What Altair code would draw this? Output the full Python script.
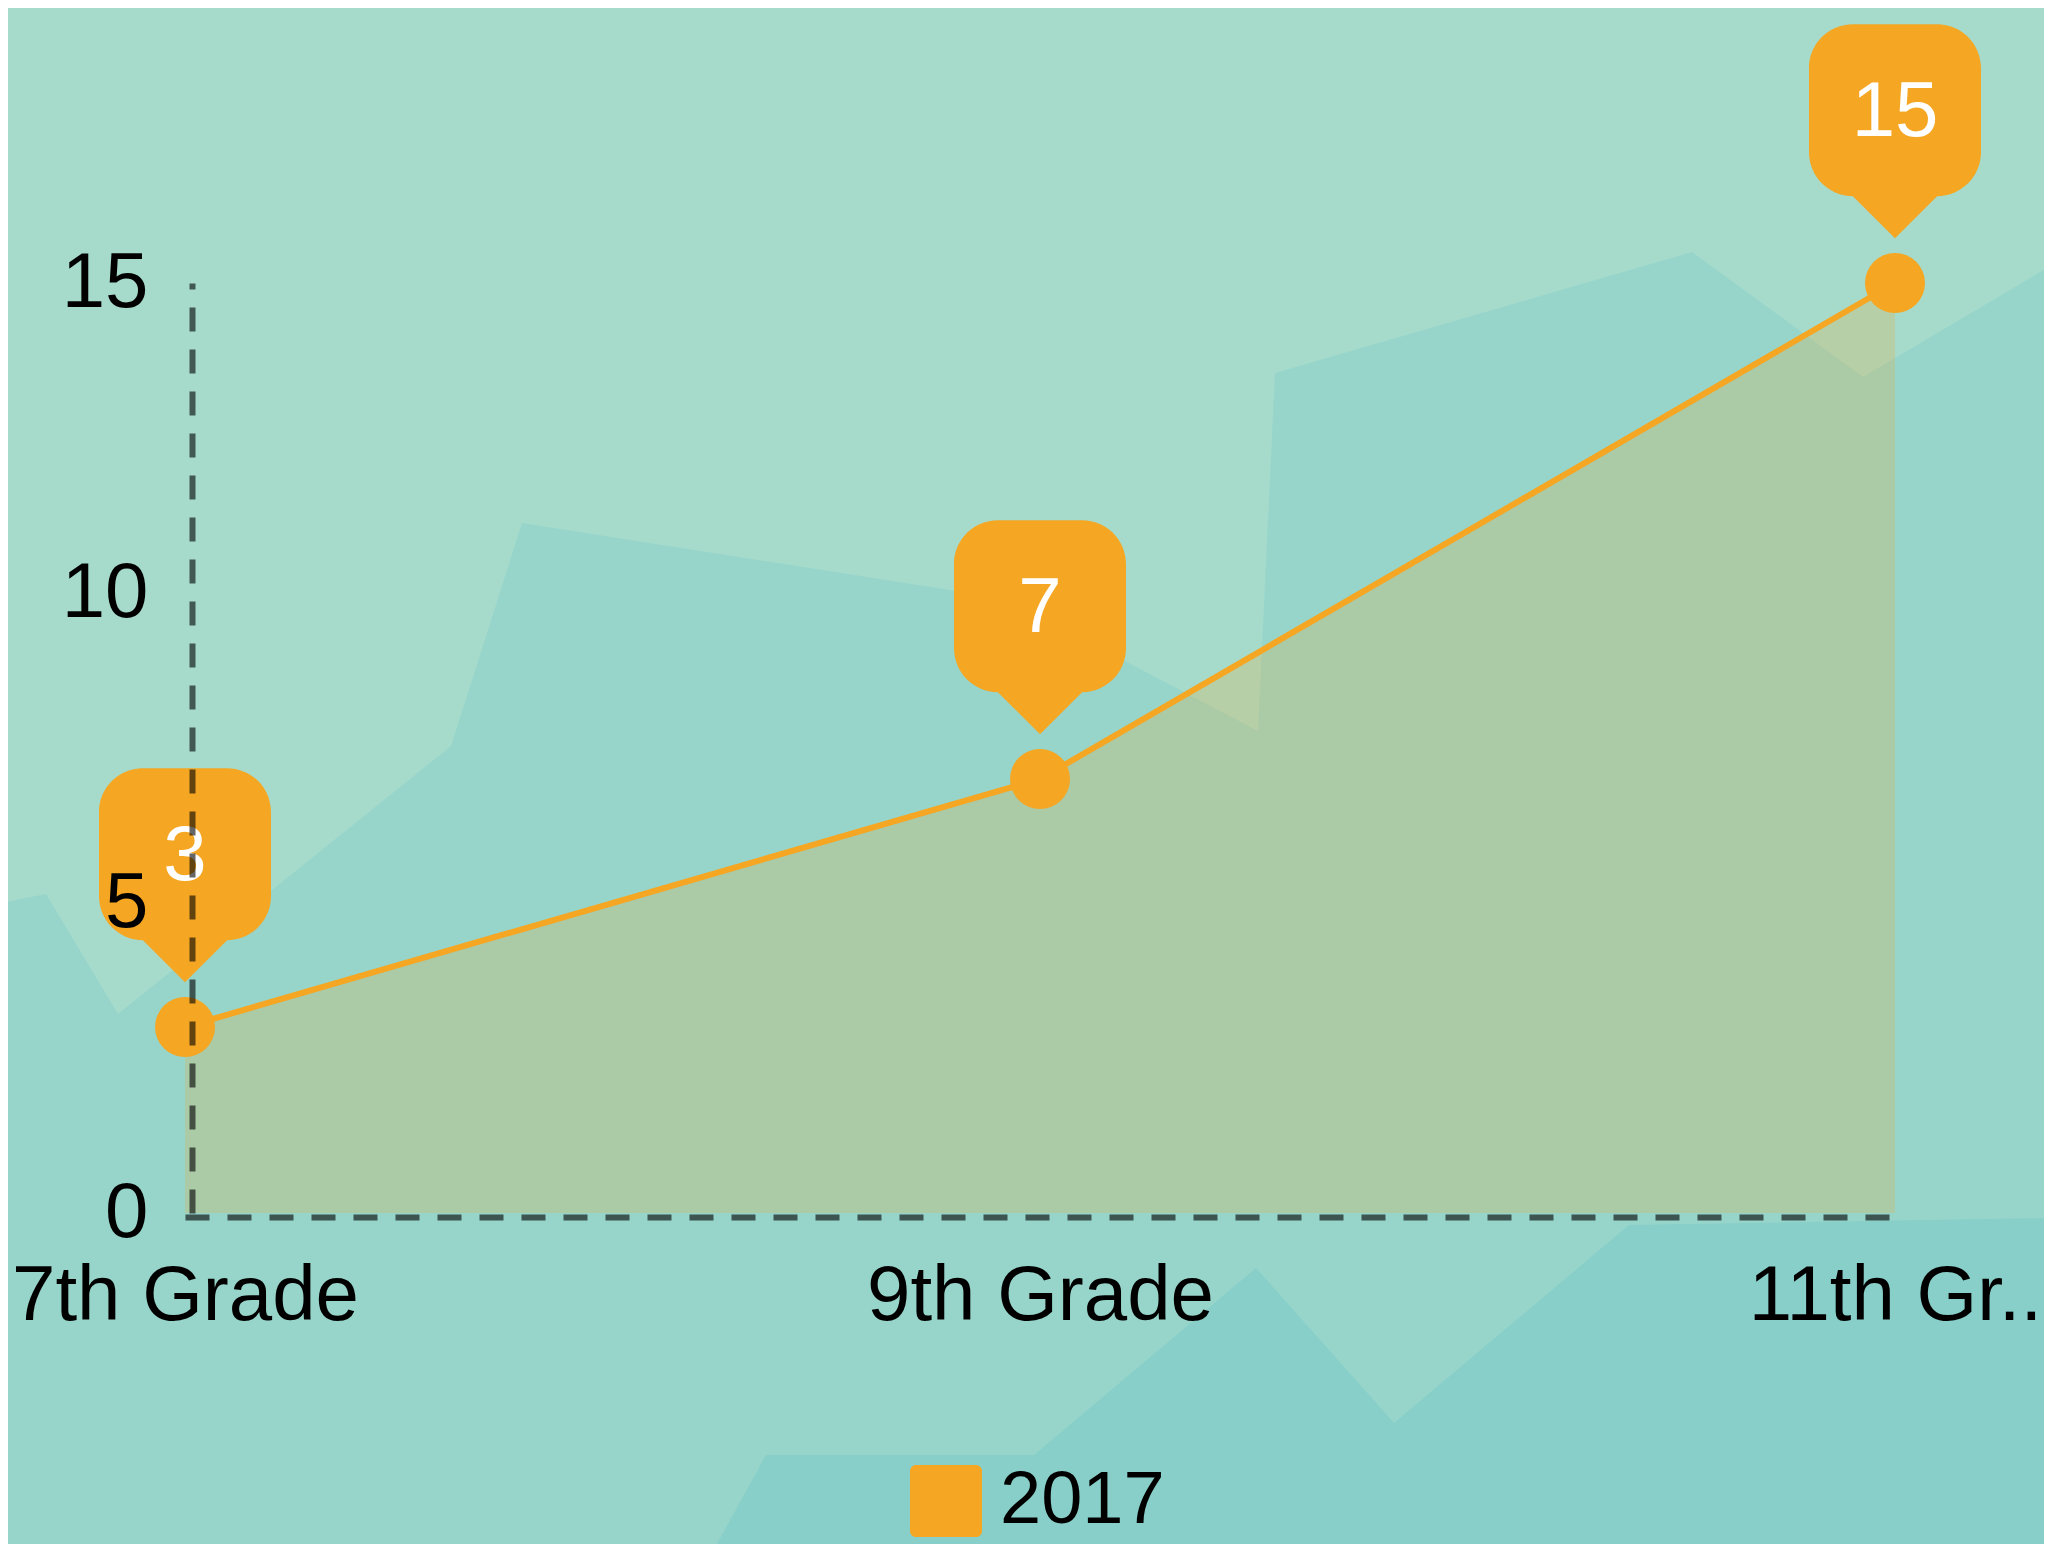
import altair as alt
import pandas as pd

# ---- data ----
grades = ["7th Grade", "9th Grade", "11th Grade"]
values = [3, 7, 15]
series_name = "2017"
y_ticks = [0, 5, 10, 15]

# decorative background shapes (page pixel units)
bg_mid_x = [0, 46, 118, 451, 522, 1007, 1258, 1275, 1692, 1863, 2052]
bg_mid_y = [903, 894, 1014, 746, 523, 599, 731, 373, 252, 377, 265]
bg_dark_x = [717, 766, 1034, 1256, 1394, 1629, 2052]
bg_dark_y = [1544, 1455, 1455, 1268, 1423, 1225, 1218]

# ---- styles ----
ORANGE = "#F5A623"
BG_LIGHT = "#A6DBCC"
BG_MID = "#97D5CB"
BG_DARK = "#87CFC8"
FONT = "Liberation Sans"

PAGE_W, PAGE_H = 2052, 1544
PLOT_LEFT, PLOT_TOP = 185, 283
W, H = 1710, 930
SVG_W, SVG_H = 2036, 1536

CALLOUT_PATH = (
    "M -0.49 -3.01 L 0.49 -3.01 C 0.7717 -3.01 1 -2.7817 1 -2.5 "
    "L 1 -1.52 C 1 -1.2383 0.7717 -1.01 0.49 -1.01 L 0 -0.52 L -0.49 -1.01 "
    "C -0.7717 -1.01 -1 -1.2383 -1 -1.52 L -1 -2.5 "
    "C -1 -2.7817 -0.7717 -3.01 -0.49 -3.01 Z"
)
LEGEND_PATH = (
    "M -0.83 -1 L 0.83 -1 C 0.924 -1 1 -0.924 1 -0.83 L 1 0.83 "
    "C 1 0.924 0.924 1 0.83 1 L -0.83 1 C -0.924 1 -1 0.924 -1 0.83 "
    "L -1 -0.83 C -1 -0.924 -0.924 -1 -0.83 -1 Z"
)

df = pd.DataFrame({"grade": grades, "value": values, "series": [series_name] * len(grades)})
mid_df = pd.DataFrame({"px": bg_mid_x, "py": bg_mid_y, "base": [PAGE_H] * len(bg_mid_x)})
dark_df = pd.DataFrame({"px": bg_dark_x, "py": bg_dark_y, "base": [PAGE_H] * len(bg_dark_x)})

bx = alt.Scale(domain=[0, PAGE_W], range=[-PLOT_LEFT, PAGE_W - PLOT_LEFT], nice=False, zero=False)
by = alt.Scale(domain=[0, PAGE_H], range=[-PLOT_TOP, PAGE_H - PLOT_TOP], nice=False, zero=False)


def bg_layer(d, color):
    return alt.Chart(d).mark_area(color=color, opacity=1).encode(
        x=alt.X("px:Q", scale=bx, axis=None),
        y=alt.Y("py:Q", scale=by, axis=None),
        y2="base:Q",
    )


background = alt.layer(bg_layer(mid_df, BG_MID), bg_layer(dark_df, BG_DARK))

axis_common = dict(
    title=None,
    domainColor="#000000",
    domainOpacity=0.6,
    domainWidth=6,
    domainDash=[24, 18],
    ticks=False,
    tickSize=0,
    grid=False,
    labelFont=FONT,
    labelFontSize=78,
    labelColor="#000000",
    labelLimit=1000,
    labelOverlap=False,
    zindex=1,
)

x_enc = alt.X(
    "grade:N",
    sort=grades,
    scale=alt.Scale(type="point", padding=0),
    axis=alt.Axis(
        labelAngle=0,
        offset=4,
        labelPadding=40,
        labelExpr="length(datum.label) > 9 ? slice(datum.label, 0, 7) + '..' : datum.label",
        **axis_common,
    ),
)
y_enc = alt.Y(
    "value:Q",
    scale=alt.Scale(domain=[0, 15], nice=False),
    axis=alt.Axis(values=y_ticks, offset=-7, labelPadding=44, **axis_common),
)

base = alt.Chart(df)
area = base.mark_area(color=ORANGE, opacity=0.22).encode(x=x_enc, y=y_enc)
line = base.mark_line(color=ORANGE, strokeWidth=6).encode(x=x_enc, y=y_enc)
points = base.mark_circle(size=3600, opacity=1).encode(
    x=x_enc,
    y=y_enc,
    color=alt.Color(
        "series:N",
        scale=alt.Scale(range=[ORANGE]),
        legend=alt.Legend(
            title=None,
            orient="none",
            legendX=724,
            legendY=1181,
            symbolType=LEGEND_PATH,
            symbolSize=5184,
            symbolOpacity=1,
            symbolStrokeWidth=0,
            labelFont=FONT,
            labelFontSize=74,
            labelColor="#000000",
            labelOffset=17,
            labelLimit=1000,
            padding=0,
        ),
    ),
)
callouts = base.mark_point(
    shape=CALLOUT_PATH, size=29584, filled=True, fill=ORANGE, opacity=1, strokeWidth=0
).encode(x=x_enc, y=y_enc)
labels = base.mark_text(
    dy=-170, fontSize=78, color="white", baseline="middle", align="center", font=FONT
).encode(x=x_enc, y=y_enc, text="value:Q")

main = alt.layer(area, line, points, callouts, labels)

chart = (
    alt.layer(background, main)
    .resolve_scale(x="independent", y="independent")
    .properties(
        width=W,
        height=H,
        autosize=alt.AutoSizeParams(type="none"),
        padding={"left": PLOT_LEFT - 8, "top": PLOT_TOP - 8,
                 "right": SVG_W - (PLOT_LEFT - 8) - W, "bottom": SVG_H - (PLOT_TOP - 8) - H},
    )
    .configure(font=FONT, background=BG_LIGHT)
    .configure_view(stroke=None)
)

chart.save("out.html", embed_options={"renderer": "svg", "actions": False})
